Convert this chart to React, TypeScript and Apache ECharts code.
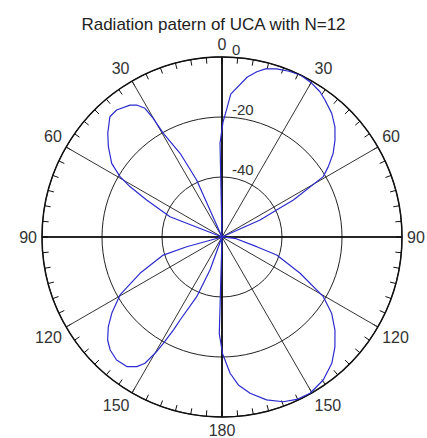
import React, { useEffect, useRef } from "react";
import * as echarts from "echarts";

const titleText = "Radiation patern of UCA with N=12";

// radial scale (dB) and angular scale (degrees)
const radiusMin = -60;
const radiusMax = 0;
const radiusStep = 20;
const angleStep = 30;

// pattern: angle (deg, clockwise from top) and gain (dB)
const patternAngles = [
  -2.5, -1.2, 0.5, 2, 3.5, 9, 11.9, 14.5, 18, 22,
  26, 30, 34, 37, 41.6, 45.7, 49.4, 53, 56.5, 59.2,
  62.6, 63.7, 65.9, 68, 93,
  95.7, 105.6, 108.2, 114.9, 120.5, 124.8, 129.5, 134.2, 139, 144.7,
  150.6, 155.3, 159.6, 164.7, 169.8, 173.7, 176.6, 178.6, 179.7, 181.6,
  183, 197,
  200, 203, 206.8, 207.6, 208.9, 209.7, 211.4, 213.3, 216.3, 220.6,
  224.7, 228, 231.7, 235.3, 240.4, 246.1, 252.9, 254.6, 258, 289,
  291.3, 296.2, 298.7, 300.6, 303.7, 308.5, 312.2, 317, 320.3, 325.1,
  327.1, 329.1, 329.9, 330.5, 333.4, 336, 338, 357.5,
];
const patternDb = [
  -60, -28.7, -21.7, -17.7, -12.3, -6, -3.7, -2.1, -1.1, -0.4,
  0, -0.6, -1.6, -2.9, -4.9, -7.4, -10.4, -13.6, -17.5, -20.7,
  -33.2, -39.7, -46.1, -60, -60,
  -55.7, -48, -40.8, -31.3, -20.8, -15.5, -11.2, -7.5, -4.2, -1.6,
  -0.2, -0.4, -1.4, -3.7, -7.1, -10.4, -14.5, -19, -21, -27.7,
  -60, -60,
  -48.3, -38.3, -29, -25, -19.5, -16, -10.7, -8.3, -6.4, -6,
  -7, -8.7, -11.7, -15.3, -20.9, -30.1, -39.5, -47.8, -60, -60,
  -41.4, -32, -25, -20.5, -15.8, -11.6, -8.6, -5.2, -5, -6.4,
  -7.6, -10, -14.3, -20.3, -28.8, -39.2, -60, -60,
];

const FONT = "'Liberation Sans', Arial, sans-serif";

export default function App() {
  const ref = useRef<HTMLDivElement>(null);

  useEffect(() => {
    if (!ref.current) return;
    const chart = echarts.init(ref.current, null, { renderer: "svg" });
    const data = patternAngles.map((a, i) => [patternDb[i], a]);

    chart.setOption({
      animation: false,
      backgroundColor: "#ffffff",
      title: {
        text: titleText,
        left: "center",
        top: 11,
        textStyle: {
          fontFamily: FONT,
          fontSize: 17,
          fontWeight: "normal",
          color: "#222",
        },
      },
      polar: [
        { center: [222, 237], radius: 180 },
        { center: [222, 237], radius: 180 },
      ],
      angleAxis: [
        {
          polarIndex: 0,
          type: "value",
          min: 0,
          max: 360,
          interval: angleStep,
          startAngle: 90,
          clockwise: true,
          axisLine: { show: true, lineStyle: { color: "#111", width: 1.5 } },
          axisTick: { show: true, inside: true, length: 6, lineStyle: { color: "#111", width: 1 } },
          minorTick: { show: true, splitNumber: 6, length: 6, lineStyle: { color: "#111", width: 1 } },
          splitLine: { show: true, lineStyle: { color: "#333", width: 1 } },
          axisLabel: {
            show: true,
            margin: 5,
            fontFamily: FONT,
            fontSize: 16,
            color: "#333",
            formatter: (v: number) => String(v <= 180 ? v : 360 - v),
          },
        },
        {
          polarIndex: 1,
          type: "value",
          min: 0,
          max: 360,
          interval: 90,
          startAngle: 90,
          clockwise: true,
          axisLine: { show: false },
          axisTick: { show: false },
          axisLabel: { show: false },
          splitLine: { show: true, lineStyle: { color: "#000", width: 1.6 } },
        },
      ],
      radiusAxis: [
        {
          polarIndex: 0,
          type: "value",
          min: radiusMin,
          max: radiusMax,
          interval: radiusStep,
          axisLine: { show: false },
          axisTick: { show: false },
          splitLine: { show: true, lineStyle: { color: "#222", width: 1 } },
          axisLabel: {
            show: true,
            margin: -10,
            align: "left",
            verticalAlign: "bottom",
            fontFamily: FONT,
            fontSize: 15,
            color: "#333",
            formatter: (v: number) => (v === radiusMin ? "" : String(v)),
          },
        },
        {
          polarIndex: 1,
          type: "value",
          min: radiusMin,
          max: radiusMax,
          show: false,
        },
      ],
      series: [
        {
          type: "line",
          coordinateSystem: "polar",
          polarIndex: 0,
          data,
          showSymbol: false,
          smooth: false,
          lineStyle: { color: "#2b2bcf", width: 1.2 },
          z: 5,
        },
      ],
    });

    return () => chart.dispose();
  }, []);

  return (
    <div
      ref={ref}
      style={{ position: "fixed", left: 0, top: 0, width: 427, height: 438 }}
    />
  );
}
